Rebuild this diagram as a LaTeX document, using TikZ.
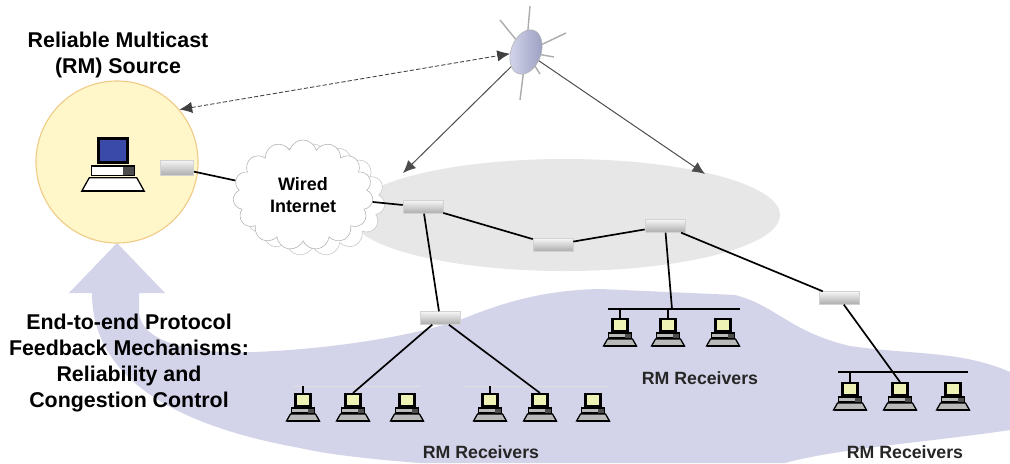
\documentclass[tikz,border=0pt]{standalone}
\usepackage{fontspec}
\setmainfont{Liberation Sans}
\usetikzlibrary{calc,positioning,arrows.meta,shapes.geometric,shapes.symbols}

\definecolor{srcfill}{HTML}{FFF7C9}
\definecolor{srcedge}{HTML}{F0CC88}
\definecolor{lav}{HTML}{D3D3EA}
\definecolor{core}{HTML}{E7E7E7}
\definecolor{scrY}{HTML}{EEF2B4}
\definecolor{scrB}{HTML}{3A4AA8}
\definecolor{satfill}{HTML}{B4B8E0}

\tikzset{
  screen/.store in=\scrcolor, screen=scrY,
  casecol/.store in=\casecolor, casecol=gray!55,
  pics/host/.style={code={
    % case and keyboard
    \draw[fill=\casecolor,line width=0.9pt] (-11.5,0) rectangle (11.5,5);
    \fill[black!70] (5,0.5) rectangle (11,4.5);
    \draw[fill=\casecolor,line width=0.9pt] (-12.5,6) -- (12.5,6) -- (16.5,13) -- (-16.5,13) -- cycle;
    \draw[line width=1.5pt] (-16.5,13) -- (16.5,13);
    % monitor
    \draw[line width=2pt,fill=\scrcolor] (-7.5,-14) rectangle (7.5,-2);
    \coordinate (-top) at (0,-15);
  }}
}

\begin{document}
\begin{tikzpicture}[x=0.025cm,y=-0.025cm,
  router/.style={rectangle,minimum width=1cm,minimum height=0.32cm,inner sep=0pt,
    top color=gray!8,bottom color=gray!65,draw=gray!35},
  sat/.style={ellipse,minimum width=0.75cm,minimum height=1.15cm,rotate=-20,
    left color=satfill!55!white,right color=satfill!85!black,draw=gray!60},
  link/.style={line width=1.2pt},
  bus/.style={line width=0.9pt},
  faintbus/.style={line width=0.7pt,gray!25},
  sky/.style={-{Latex[length=9pt,width=8pt]},line width=0.7pt,black!70},
  uplink/.style={{Latex[length=9pt,width=8pt]}-{Latex[length=9pt,width=8pt]},
    dash pattern=on 3pt off 1.5pt,line width=0.6pt,black!75},
  big/.style={font=\bfseries\fontsize{15.2}{18.3}\selectfont,align=center},
  rx/.style={font=\bfseries\fontsize{12.6}{15}\selectfont,black!85}]

\fill[white] (0,0) rectangle (1010,463);
\useasboundingbox (0,0) rectangle (1010,463);

% feedback arrow and receiver area
\fill[lav] (117,243) -- (165,293) -- (139,293) -- (139,312)
  .. controls (141,345) and (200,354) .. (255,352)
  .. controls (330,349) and (420,336) .. (470,316)
  .. controls (510,300) and (550,290) .. (600,289) -- (735,295)
  .. controls (775,305) and (790,332) .. (850,346)
  .. controls (910,355) and (960,350) .. (1010,372) -- (1010,430)
  .. controls (930,442) and (840,448) .. (785,463) -- (420,463)
  .. controls (380,460) and (330,455) .. (300,448)
  .. controls (200,430) and (92,390) .. (92,293) -- (69,293) -- cycle;

% backbone region
\fill[core] (565,215) ellipse [x radius=215, y radius=56];

% source
\node[circle,minimum size=4.05cm,fill=srcfill,draw=srcedge,line width=0.8pt] (src) at (117,162) {};
\pic[screen=scrB,casecol=white,xscale=1.9,yscale=1.95] (pc) at (113,166) {host};
\node[big] (title) at (118,55) {Reliable Multicast\\(RM) Source};

% internet cloud
\node[cloud,cloud puffs=15,aspect=1.3,minimum width=3.6cm,minimum height=2.8cm,
  draw=gray!45,fill=white] (back) at (313,200) {};
\node[cloud,cloud puffs=15,aspect=1.3,minimum width=3.5cm,minimum height=2.75cm,
  draw=gray!60,fill=white,font=\bfseries\fontsize{12.8}{15.2}\selectfont,align=center]
  (net) at (303,195) {Wired\\Internet};

% satellite
\coordinate (satc) at (526,52);
\draw[gray!65,line width=1pt] (satc) -- ++(4,-46) (satc) -- ++(-26,-32) (satc) -- ++(40,-19)
  (satc) -- ++(28,5) (satc) -- ++(-6,48) (satc) -- ++(14,22);
\node[sat] (sat) at (satc) {};
\coordinate (dl) at (403,173);
\coordinate (dr) at (705,174);
\draw[uplink] (src.40) -- (sat.206);
\draw[sky] (sat) -- (dl);
\draw[sky] (sat) -- (dr);

% routers
\node[router,minimum width=0.83cm,minimum height=0.38cm] (r0) at (177,168) {};
\node[router] (r1) at (423,207) {};
\node[router] (r2) at (553,245) {};
\node[router] (r3) at (665,226) {};
\node[router] (r4) at (839,298) {};
\node[router] (r5) at (440,318) {};

% receivers
\pic (a1) at (303,408) {host};
\pic (a2) at ($(a1-top)+(50,15)$) {host};
\pic (a3) at ($(a2-top)+(54,15)$) {host};
\pic (a4) at (490,408) {host};
\pic (a5) at ($(a4-top)+(50,15)$) {host};
\pic (a6) at ($(a5-top)+(53,15)$) {host};
\pic (b1) at (620,333) {host};
\pic (b2) at ($(b1-top)+(48,15)$) {host};
\pic (b3) at ($(b2-top)+(55,15)$) {host};
\pic (c1) at (850,397) {host};
\pic (c2) at ($(c1-top)+(50,15)$) {host};
\pic (c3) at ($(c2-top)+(53,15)$) {host};

\draw[faintbus] ($(a1-top)+(-10,-7)$) -- ($(a3-top)+(13,-7)$);
\draw[faintbus] ($(a4-top)+(-27,-7)$) -- ($(a6-top)+(15,-7)$);
\draw[bus] ($(b1-top)+(-12,-9)$) -- ($(b3-top)+(17,-9)$);
\draw[bus] ($(c1-top)+(-12,-10)$) -- ($(c3-top)+(15,-10)$);
\coordinate (busB) at ($(b2-top)+(4,-9)$);
\draw[bus] (a1-top) -- ++(0,-7) (a4-top) -- ++(0,-7);
\draw[bus] (b1-top) -- ++(0,-9) (b2-top) -- ++(0,-9);
\draw[bus] (c1-top) -- ++(0,-10);

% links
\draw[link] (r0) -- (net);
\draw[link] (net) -- (r1) -- (r2) -- (r3) -- (r4);
\draw[link] (r1) -- (r5);
\draw[link] (r3) -- (busB);
\draw[link] (r4) -- (c2-top);
\draw[link] (r5) -- (a2-top);
\draw[link] (r5) -- (a5-top);

% labels
\node[big] (fb) at (129,363) {End-to-end Protocol\\Feedback Mechanisms:\\Reliability and\\Congestion Control};
\node[rx] (rxa) at (481,452) {RM Receivers};
\node[rx] (rxb) at (700,378) {RM Receivers};
\node[rx] (rxc) at (905,452) {RM Receivers};
\end{tikzpicture}
\end{document}
